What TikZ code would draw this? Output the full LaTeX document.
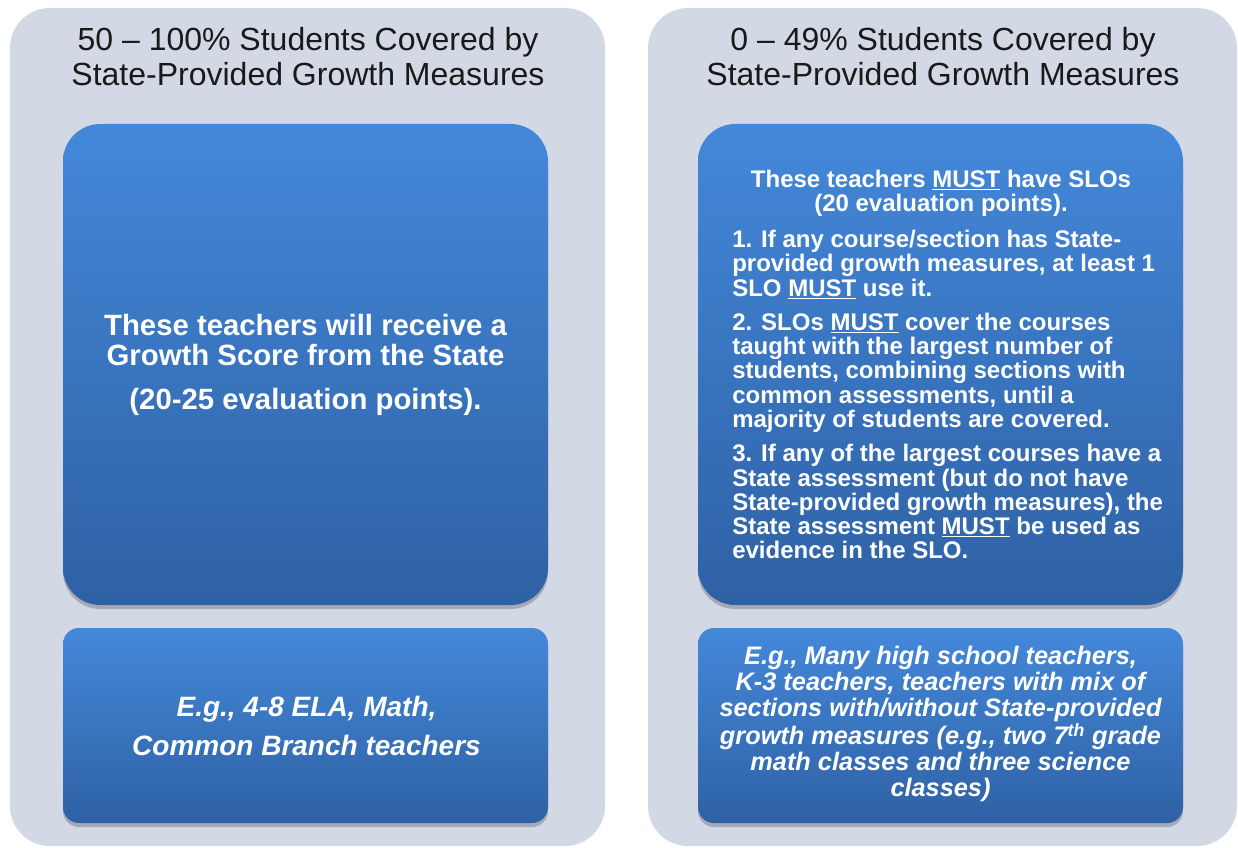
\documentclass[tikz,border=0pt]{standalone}
\usepackage{fontspec}
\setmainfont{Liberation Sans}
\definecolor{panelgrey}{RGB}{211,216,229}
\definecolor{boxtop}{RGB}{68,136,218}
\definecolor{boxbottom}{RGB}{46,97,164}
\definecolor{boxshadow}{RGB}{105,112,130}
\definecolor{titleink}{RGB}{25,25,25}
\begin{document}
\begin{tikzpicture}[x=0.75pt,y=0.75pt,yscale=-1,xscale=1,
    panel/.style={fill=panelgrey,draw=none,rounded corners=30pt},
    bluebox/.style={top color=boxtop,bottom color=boxbottom,rounded corners=#1},
    boxshade/.style={fill=boxshadow,opacity=0.45,rounded corners=#1},
    titletext/.style={inner sep=0,align=center,text=titleink,font=\fontsize{24}{26.25}\selectfont},
    bigtext/.style={inner sep=0,align=center,text=white,font=\bfseries\fontsize{22}{22.5}\selectfont},
    listtext/.style={inner sep=0,align=left,text=white,font=\bfseries\fontsize{18}{18.2}\selectfont},
    egtext/.style 2 args={inner sep=0,align=center,text=white,font=\bfseries\itshape\fontsize{#1}{#2}\selectfont}]
\useasboundingbox (0,0) rectangle (1238,848);

%Shape: Rounded Rect [left panel]
\fill  [panel] (10,8) rectangle (605,846) ;
%Shape: Rounded Rect [right panel]
\fill  [panel] (648,8) rectangle (1237,846) ;

%Shape: Shadows
\fill  [boxshade=28pt] (63,128) rectangle (548,609) ;
\fill  [boxshade=12pt] (63,631) rectangle (548,827) ;
\fill  [boxshade=28pt] (698,128) rectangle (1183,609) ;
\fill  [boxshade=12pt] (698,631) rectangle (1183,827) ;
%Shape: Blue boxes
\shade [bluebox=28pt] (63,124) rectangle (548,605) ;
\shade [bluebox=12pt] (63,628) rectangle (548,823) ;
\shade [bluebox=28pt] (698,124) rectangle (1183,605) ;
\shade [bluebox=12pt] (698,628) rectangle (1183,823) ;

% Text Node
\node [titletext,anchor=north] (titleA) at (308,27) {50 -- 100\% Students Covered by\\State-Provided Growth Measures};
% Text Node
\node [titletext,anchor=north] (titleB) at (943,27) {0 -- 49\% Students Covered by\\State-Provided Growth Measures};
% Text Node
\node [bigtext] (stateScore) at (305.5,365) {These teachers will receive a\\Growth Score from the State\\[11pt](20-25 evaluation points).};
% Text Node
\node [egtext={21}{29}] (stateExamples) at (306.5,726) {E.g., 4-8 ELA, Math,\\Common Branch teachers};
% Text Node
\node [listtext,align=center,anchor=north] (sloHead) at (941,170) {These teachers \underline{MUST} have SLOs\\(20 evaluation points).};
% Text Node
\node [listtext,anchor=north west] (sloRules) at (732,230) {1. If any course/section has State-\\provided growth measures, at least 1\\SLO \underline{MUST} use it.\\[7.5pt]2. SLOs \underline{MUST} cover the courses\\taught with the largest number of\\students, combining sections with\\common assessments, until a\\majority of students are covered.\\[7.5pt]3. If any of the largest courses have a\\State assessment (but do not have\\State-provided growth measures), the\\State assessment \underline{MUST} be used as\\evidence in the SLO.};
% Text Node
\node [egtext={19}{19.5}] (sloExamples) at (940.5,724) {E.g., Many high school teachers,\\K-3 teachers, teachers with mix of\\sections with/without State-provided\\growth measures (e.g., two 7\textsuperscript{th} grade\\math classes and three science\\classes)};
\end{tikzpicture}
\end{document}
